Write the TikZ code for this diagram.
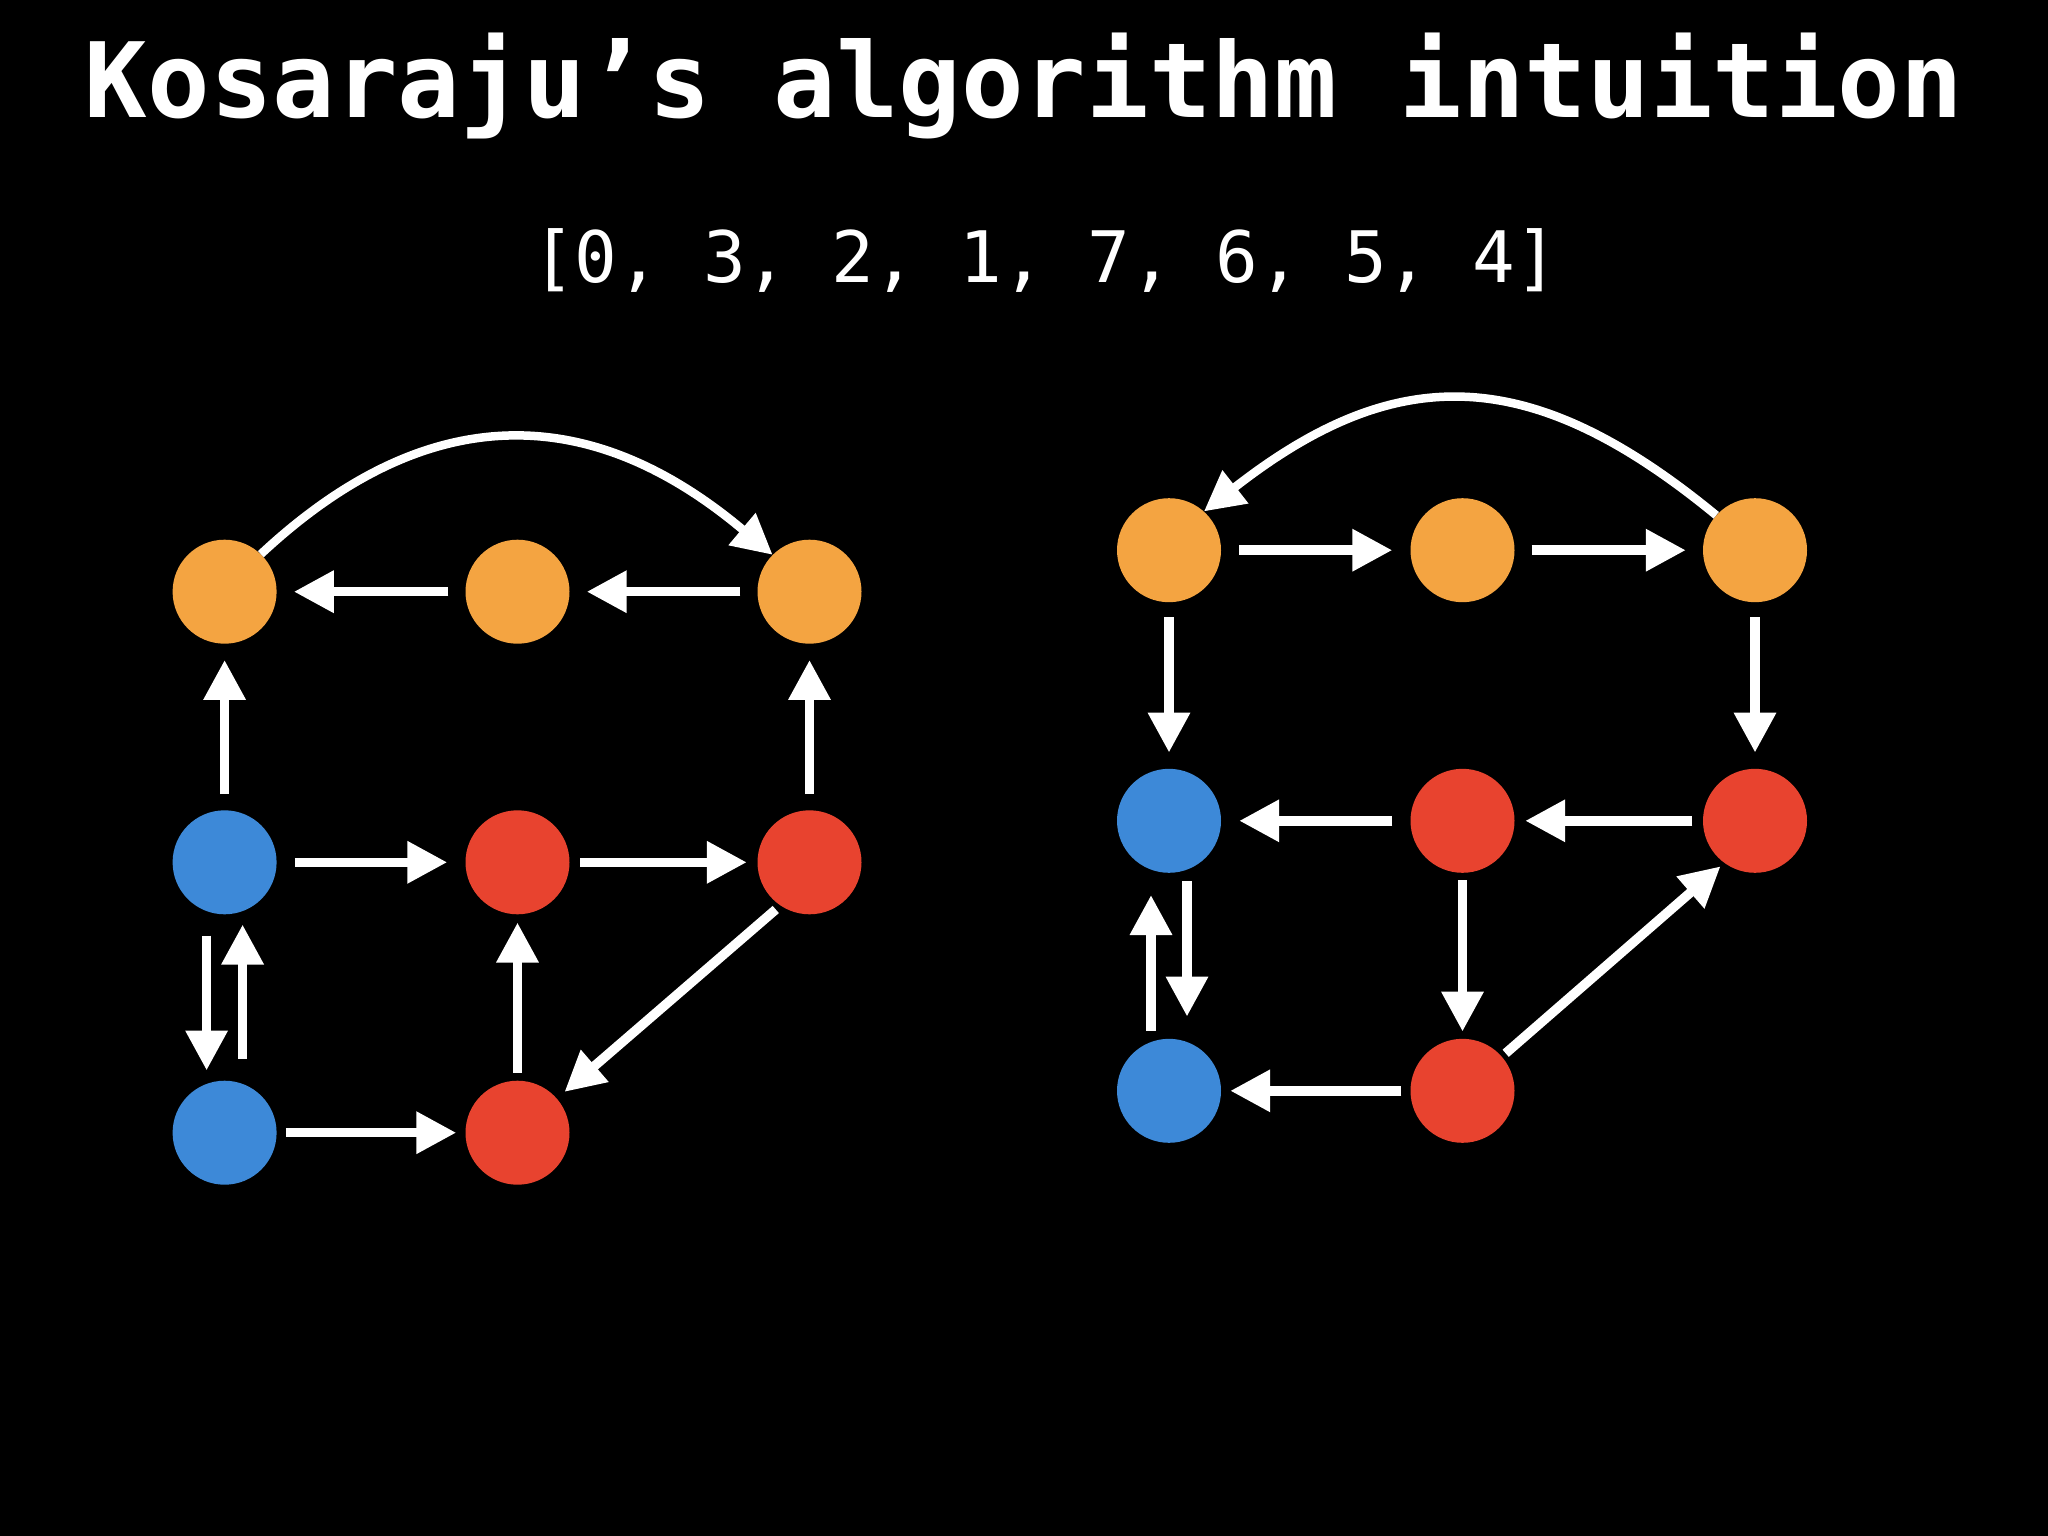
\documentclass[tikz,border=0pt]{standalone}
\usepackage{fontspec}
\newfontfamily\monofont{DejaVu Sans Mono}
\usetikzlibrary{arrows.meta}
\definecolor{korange}{HTML}{F4A441}
\definecolor{kred}{HTML}{E8432F}
\definecolor{kblue}{HTML}{3D89D8}
\begin{document}
\begin{tikzpicture}[x=1pt,y=-1pt,
  vtx/.style={circle, minimum size=104pt, inner sep=0pt, draw=none},
  edge/.style={draw=white, line width=9.5pt, -{Triangle[length=40pt,width=40pt]}},
  arcedge/.style={draw=white, line width=8.5pt, -{Triangle[length=40pt,width=40pt]}},
  titletext/.style={text=white, font=\monofont\bfseries\fontsize{104}{120}\selectfont, anchor=base, inner sep=0pt},
  listtext/.style={text=white, font=\monofont\fontsize{71}{84}\selectfont, anchor=base, inner sep=0pt}
]
\fill[black] (0,0) rectangle (2048,1536);
\useasboundingbox (0,0) rectangle (2048,1536);

\node[titletext] (title) at (1024,118) {Kosaraju’s algorithm intuition};
\node[listtext] (order) at (1045,282) {[0, 3, 2, 1, 7, 6, 5, 4]};

% left graph
\node[vtx,fill=korange] (a1) at (224.6,591.7) {};
\node[vtx,fill=korange] (a2) at (517.5,591.7) {};
\node[vtx,fill=korange] (a3) at (809.5,591.7) {};
\node[vtx,fill=kblue] (b1) at (224.6,862.3) {};
\node[vtx,fill=kred] (b2) at (517.5,862.3) {};
\node[vtx,fill=kred] (b3) at (809.5,862.3) {};
\node[vtx,fill=kblue] (c1) at (224.6,1132.7) {};
\node[vtx,fill=kred] (c2) at (517.5,1132.7) {};

\draw[edge, shorten <=17pt, shorten >=17pt] (a2) -- (a1);
\draw[edge, shorten <=17pt, shorten >=17pt] (a3) -- (a2);
\draw[edge, shorten <=16pt, shorten >=16pt] (b1) -- (a1);
\draw[edge, shorten <=16pt, shorten >=16pt] (b3) -- (a3);
\draw[edge, shorten <=18pt, shorten >=18pt] (b1) -- (b2);
\draw[edge, shorten <=10.5pt, shorten >=10.5pt] (b2) -- (b3);
\draw[edge, shorten <=9pt, shorten >=9pt] (c1) -- (c2);
\draw[edge, shorten <=8pt, shorten >=8pt] (c2) -- (b2);
\draw[edge, shorten <=21pt, shorten >=10pt] ([xshift=-18pt]b1.south) -- ([xshift=-18pt]c1.north);
\draw[edge, shorten <=22pt, shorten >=10pt] ([xshift=18pt]c1.north) -- ([xshift=18pt]b1.south);
\draw[edge, shorten <=6pt, shorten >=10pt] (b3.236) -- (c2.41);
\draw[arcedge] (a1.46) .. controls +(166,-155) and +(-183,-154) .. (a3.135);

% right graph
\node[vtx,fill=korange] (ra1) at (1169,550.2) {};
\node[vtx,fill=korange] (ra2) at (1462.5,550.2) {};
\node[vtx,fill=korange] (ra3) at (1755,550.2) {};
\node[vtx,fill=kblue] (rb1) at (1169,820.8) {};
\node[vtx,fill=kred] (rb2) at (1462.5,820.8) {};
\node[vtx,fill=kred] (rb3) at (1755,820.8) {};
\node[vtx,fill=kblue] (rc1) at (1169,1090.8) {};
\node[vtx,fill=kred] (rc2) at (1462.5,1090.8) {};

\draw[edge, shorten <=18pt, shorten >=18pt] (ra1) -- (ra2);
\draw[edge, shorten <=17pt, shorten >=17pt] (ra2) -- (ra3);
\draw[edge, shorten <=15pt, shorten >=16pt] (ra1) -- (rb1);
\draw[edge, shorten <=15pt, shorten >=16pt] (ra3) -- (rb3);
\draw[edge, shorten <=18pt, shorten >=18pt] (rb2) -- (rb1);
\draw[edge, shorten <=10.5pt, shorten >=10.5pt] (rb3) -- (rb2);
\draw[edge, shorten <=7pt, shorten >=7pt] (rb2) -- (rc2);
\draw[edge, shorten <=9pt, shorten >=9pt] (rc2) -- (rc1);
\draw[edge, shorten <=8pt, shorten >=22pt] ([xshift=18pt]rb1.south) -- ([xshift=18pt]rc1.north);
\draw[edge, shorten <=8pt, shorten >=22pt] ([xshift=-18pt]rc1.north) -- ([xshift=-18pt]rb1.south);
\draw[edge, shorten <=5pt, shorten >=5pt] (rc2.41) -- (rb3.234);
\draw[arcedge] (ra3.138) .. controls +(-186,-153) and +(192,-150) .. (ra1.48);
\end{tikzpicture}
\end{document}
